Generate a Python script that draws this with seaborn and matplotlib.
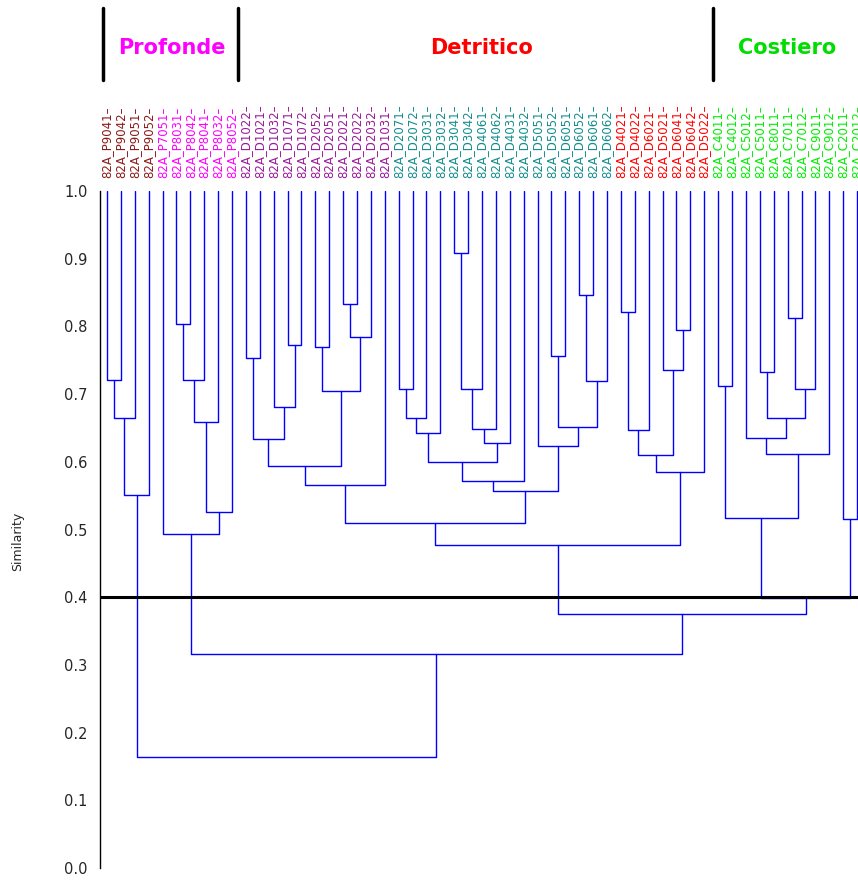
import matplotlib
matplotlib.use("Agg")
import pandas as pd
import matplotlib.pyplot as plt
import seaborn as sns
from matplotlib.transforms import blended_transform_factory

# Stations in dendrogram order
sites = [
    "82A_P9041", "82A_P9042", "82A_P9051", "82A_P9052",
    "82A_P7051", "82A_P8031", "82A_P8042", "82A_P8041", "82A_P8032", "82A_P8052",
    "82A_D1022", "82A_D1021", "82A_D1032", "82A_D1071", "82A_D1072", "82A_D2052",
    "82A_D2051", "82A_D2021", "82A_D2022", "82A_D2032", "82A_D1031",
    "82A_D2071", "82A_D2072", "82A_D3031", "82A_D3032", "82A_D3041", "82A_D3042",
    "82A_D4061", "82A_D4062", "82A_D4031", "82A_D4032", "82A_D5051", "82A_D5052",
    "82A_D6051", "82A_D6052", "82A_D6061", "82A_D6062",
    "82A_D4021", "82A_D4022", "82A_D6021", "82A_D5021", "82A_D6041", "82A_D6042",
    "82A_D5022",
    "82A_C4011", "82A_C4012", "82A_C5012", "82A_C5011", "82A_C8011", "82A_C7011",
    "82A_C7012", "82A_C9011", "82A_C9012", "82A_C2011", "82A_C2012",
]
site_group = (["P9"] * 4 + ["P"] * 6 + ["D1"] * 11 + ["D2"] * 16 + ["D3"] * 7
              + ["C"] * 11)
group_colors = {"P9": "#8b1a1a", "P": "#ff00ff", "D1": "#9a1a9a",
                "D2": "#138d8d", "D3": "#ff0000", "C": "#00ee00"}

# Agglomeration steps: (node, left, right, similarity)
links = [
    ("b1", "82A_P9041", "82A_P9042", 0.721),
    ("b2", "b1", "82A_P9051", 0.664),
    ("b3", "b2", "82A_P9052", 0.551),
    ("m1", "82A_P8031", "82A_P8042", 0.803),
    ("m2", "m1", "82A_P8041", 0.721),
    ("m3", "m2", "82A_P8032", 0.659),
    ("m4", "m3", "82A_P8052", 0.526),
    ("m5", "82A_P7051", "m4", 0.493),
    ("p1", "82A_D1022", "82A_D1021", 0.753),
    ("p2", "82A_D1071", "82A_D1072", 0.773),
    ("p3", "82A_D1032", "p2", 0.681),
    ("p4", "p1", "p3", 0.634),
    ("p5", "82A_D2052", "82A_D2051", 0.770),
    ("p6", "82A_D2021", "82A_D2022", 0.833),
    ("p7", "p6", "82A_D2032", 0.785),
    ("p8", "p5", "p7", 0.705),
    ("p9", "p4", "p8", 0.594),
    ("p10", "p9", "82A_D1031", 0.566),
    ("t1", "82A_D2071", "82A_D2072", 0.708),
    ("t2", "t1", "82A_D3031", 0.665),
    ("t3", "t2", "82A_D3032", 0.643),
    ("t4", "82A_D3041", "82A_D3042", 0.908),
    ("t5", "t4", "82A_D4061", 0.708),
    ("t6", "t5", "82A_D4062", 0.649),
    ("t7", "t6", "82A_D4031", 0.628),
    ("t8", "t3", "t7", 0.600),
    ("t9", "t8", "82A_D4032", 0.572),
    ("t10", "82A_D5052", "82A_D6051", 0.756),
    ("t11", "82A_D6052", "82A_D6061", 0.846),
    ("t12", "t11", "82A_D6062", 0.720),
    ("t13", "t10", "t12", 0.652),
    ("t14", "82A_D5051", "t13", 0.623),
    ("t15", "t9", "t14", 0.557),
    ("r1", "82A_D4021", "82A_D4022", 0.821),
    ("r2", "r1", "82A_D6021", 0.647),
    ("r3", "82A_D6041", "82A_D6042", 0.795),
    ("r4", "82A_D5021", "r3", 0.735),
    ("r5", "r2", "r4", 0.610),
    ("r6", "r5", "82A_D5022", 0.585),
    ("d1", "p10", "t15", 0.510),
    ("d2", "d1", "r6", 0.477),
    ("g1", "82A_C4011", "82A_C4012", 0.712),
    ("g2", "82A_C5011", "82A_C8011", 0.733),
    ("g3", "82A_C7011", "82A_C7012", 0.813),
    ("g4", "g3", "82A_C9011", 0.708),
    ("g5", "g2", "g4", 0.665),
    ("g6", "82A_C5012", "g5", 0.635),
    ("g7", "g6", "82A_C9012", 0.612),
    ("g8", "g1", "g7", 0.517),
    ("g9", "82A_C2011", "82A_C2012", 0.515),
    ("g10", "g8", "g9", 0.399),
    ("a1", "d2", "g10", 0.375),
    ("a2", "m5", "a1", 0.316),
    ("a3", "b3", "a2", 0.164),
]

cut_level = 0.40
yticks = [0.0, 0.1, 0.2, 0.3, 0.4, 0.5, 0.6, 0.7, 0.8, 0.9, 1.0]

# Coordinates of every node: leaves sit at their rank on the 1.0 line,
# joins sit midway between their two children
pos = {s: (float(i), 1.0) for i, s in enumerate(sites)}
rows = []
for node, left, right, sim in links:
    xl, yl = pos[left]
    xr, yr = pos[right]
    for x, y in [(xl, yl), (xl, sim), (xr, sim), (xr, yr)]:
        rows.append({"node": node, "x": x, "y": y})
    pos[node] = ((xl + xr) / 2.0, sim)
segments = pd.DataFrame(rows)

sns.set_theme(style="white")
plt.rcParams["font.family"] = ["DejaVu Sans"]

W, H = 858, 881
fig = plt.figure(figsize=(W / 100, H / 100), dpi=100)
step = 13.89         # pixels between leaves
x0_px = 107          # pixel of the first leaf
left_px, bottom_px, top_px = 100, 13, 191
xmin = (left_px - x0_px) / step
xmax = len(sites) + 0.5
ax = fig.add_axes([left_px / W, bottom_px / H,
                   (xmax - xmin) * step / W, (H - top_px - bottom_px) / H])

sns.lineplot(data=segments, x="x", y="y", units="node", estimator=None,
             sort=False, color="#0000ff", linewidth=1.0, ax=ax, legend=False)
ax.axhline(cut_level, color="black", linewidth=2.2, zorder=5)

ax.set_xlim(xmin, xmax)
ax.set_ylim(0, 1.0)
ax.set_yticks(yticks)
ax.set_yticklabels([f"{v:.1f}" for v in yticks], fontsize=10.5)
ax.tick_params(axis="y", direction="out", length=5, width=1, color="black", pad=4)
for side in ["top", "right", "bottom"]:
    ax.spines[side].set_visible(False)
ax.spines["left"].set_color("black")
ax.spines["left"].set_linewidth(1.0)
ax.set_xlabel("")
ax.set_ylabel("")

# Station labels above the leaves
ax.xaxis.tick_top()
ax.set_xticks(range(len(sites)))
ax.set_xticklabels([s + "–" for s in sites], rotation=90, fontsize=8.5)
ax.tick_params(axis="x", length=0, pad=9)
for lab, grp in zip(ax.get_xticklabels(), site_group):
    lab.set_color(group_colors[grp])

fig.text(18 / W, 1 - 541 / H, "Similarity", rotation=90, ha="center",
         va="center", fontsize=9)

# Habitat headers
tr = blended_transform_factory(ax.transData, fig.transFigure)
for xb in [-0.3, 9.45, 43.6]:
    ax.plot([xb, xb], [1 - 8 / H, 1 - 80 / H], color="black", linewidth=2.5,
            transform=tr, clip_on=False)
headers = [("Profonde", 4.7, "#ff00ff"), ("Detritico", 27.0, "#ff0000"),
           ("Costiero", 49.0, "#00dd00")]
for txt, xc, col in headers:
    ax.text(xc, 1 - 48 / H, txt, color=col, fontsize=15, fontweight="bold",
            ha="center", va="center", transform=tr)

fig.savefig("out.png", dpi=100)
